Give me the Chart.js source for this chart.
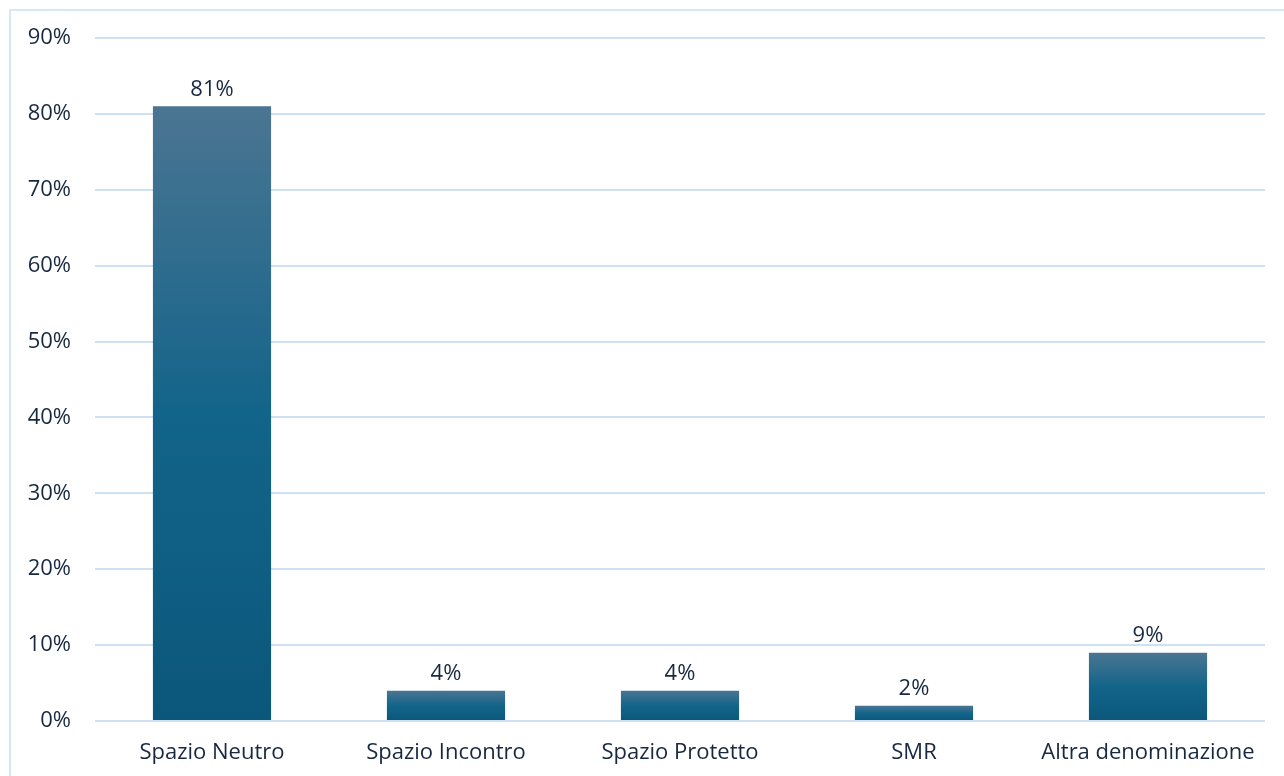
<!DOCTYPE html>
<html lang="it">
<head>
<meta charset="utf-8">
<title>Denominazione</title>
<script src="https://cdn.jsdelivr.net/npm/chart.js@4/dist/chart.umd.min.js"></script>
<style>
    html, body { margin: 0; padding: 0; background: #ffffff; }
    body { width: 1284px; height: 776px; position: relative; overflow: hidden; }
    .frame {
        position: absolute; left: 9px; top: 9px; width: 1300px; height: 800px;
        border-left: 2px solid #d9e6f4; border-top: 2px solid #d9e6f4;
    }
    #wrap { position: absolute; left: 0; top: 0; width: 1284px; height: 776px; }
</style>
</head>
<body>
<div class="frame"></div>
<div id="wrap"><canvas id="chart" width="1284" height="776"></canvas></div>
<script>
const categories = ['Spazio Neutro', 'Spazio Incontro', 'Spazio Protetto', 'SMR', 'Altra denominazione'];
const percentages = [81, 4, 4, 2, 9];
const yTicks = [0, 10, 20, 30, 40, 50, 60, 70, 80, 90];

const textColor = '#172840';
const gridColor = '#cde0f4';
const fontFamily = "'Open Sans', 'Noto Sans', sans-serif";

// vertical gradient per bar, lighter at the top of each bar
function barGradient(context) {
    const chart = context.chart;
    const yScale = chart.scales.y;
    if (!yScale || !chart.chartArea) return '#10608a';
    const top = yScale.getPixelForValue(percentages[context.dataIndex]);
    const bottom = yScale.getPixelForValue(0);
    const g = chart.ctx.createLinearGradient(0, top, 0, bottom);
    g.addColorStop(0, '#4b7592');
    g.addColorStop(0.5, '#13648a');
    g.addColorStop(1, '#0b577b');
    return g;
}

const valueLabels = {
    id: 'valueLabels',
    afterDatasetsDraw(chart) {
        const ctx = chart.ctx;
        const meta = chart.getDatasetMeta(0);
        ctx.save();
        ctx.fillStyle = textColor;
        ctx.font = '22px ' + fontFamily;
        ctx.textAlign = 'center';
        ctx.textBaseline = 'bottom';
        meta.data.forEach((bar, i) => {
            ctx.fillText(percentages[i] + '%', bar.x, bar.y - 6);
        });
        ctx.restore();
    }
};

new Chart(document.getElementById('chart').getContext('2d'), {
    type: 'bar',
    data: {
        labels: categories,
        datasets: [{
            data: percentages,
            backgroundColor: barGradient,
            borderWidth: 0,
            categoryPercentage: 1,
            barPercentage: 0.505
        }]
    },
    options: {
        responsive: false,
        animation: false,
        layout: { padding: { top: 38, right: 19, left: 0, bottom: 0 } },
        plugins: {
            legend: { display: false },
            tooltip: { enabled: false }
        },
        scales: {
            y: {
                min: 0,
                max: 90,
                afterBuildTicks(scale) {
                    scale.ticks = yTicks.map(v => ({ value: v }));
                },
                afterFit(scale) { scale.width = 95; },
                border: { display: false },
                grid: { color: gridColor, lineWidth: 2, drawTicks: false },
                ticks: {
                    color: textColor,
                    padding: 24,
                    font: { family: fontFamily, size: 22 },
                    callback: v => v + '%'
                }
            },
            x: {
                afterFit(scale) { scale.height = 55; },
                border: { display: false },
                grid: { display: false },
                ticks: {
                    color: textColor,
                    padding: 11,
                    maxRotation: 0,
                    font: { family: fontFamily, size: 22 }
                }
            }
        }
    },
    plugins: [valueLabels]
});
</script>
</body>
</html>
